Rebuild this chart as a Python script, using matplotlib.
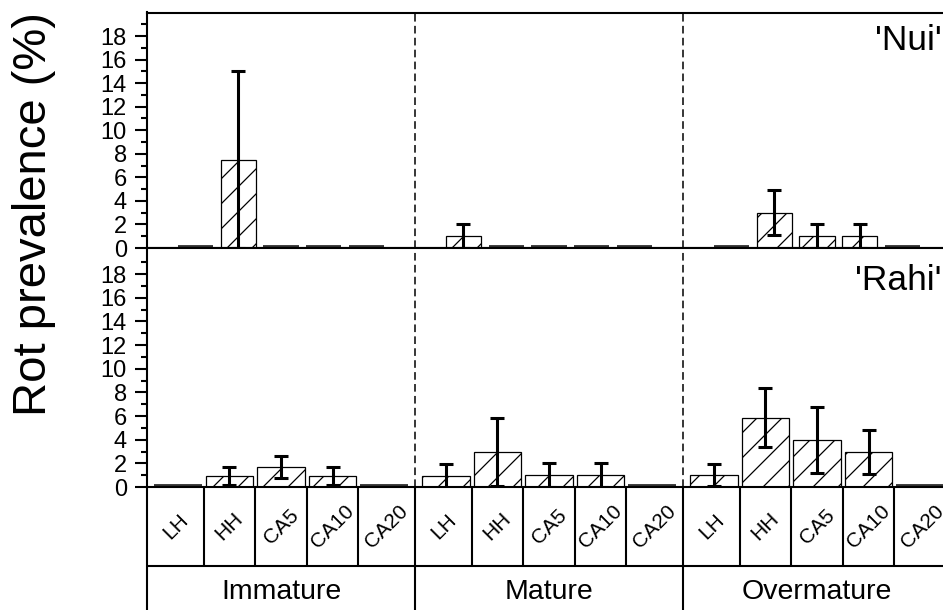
import matplotlib
matplotlib.use('Agg')
import matplotlib.pyplot as plt
from matplotlib import backend_bases
from matplotlib.path import Path

# hatch density closer to the reference
def _hatch_path(self, density=6.0):
    h = self.get_hatch()
    if h is None:
        return None
    return Path.hatch(h, 8)
backend_bases.GraphicsContextBase.get_hatch_path = _hatch_path

plt.rcParams['font.family'] = ['Liberation Sans', 'DejaVu Sans']
plt.rcParams['hatch.linewidth'] = 0.9

# ---------------- data ----------------
groups = ['Immature', 'Mature', 'Overmature']
treatments = ['LH', 'HH', 'CA5', 'CA10', 'CA20']
cultivars = ["'Nui'", "'Rahi'"]

nui_mean = [[0, 7.5, 0, 0, 0],
            [1.0, 0, 0, 0, 0],
            [0, 3.0, 1.0, 1.0, 0]]
nui_err = [[0, 7.5, 0, 0, 0],
           [1.0, 0, 0, 0, 0],
           [0, 1.9, 1.0, 1.0, 0]]

rahi_mean = [[0, 0.9, 1.7, 0.9, 0],
             [0.95, 2.95, 1.0, 1.0, 0],
             [1.0, 5.85, 3.95, 2.95, 0]]
rahi_err = [[0, 0.75, 0.95, 0.75, 0],
            [1.0, 2.85, 1.0, 1.0, 0],
            [0.95, 2.5, 2.8, 1.85, 0]]

yticks_major = list(range(0, 19, 2))
yticks_minor = list(range(1, 20, 2))

# ---------------- layout ----------------
W, H = 943, 610
fig = plt.figure(figsize=(W / 100, H / 100), dpi=100)

def fx(px):
    return px / W

def fy(py):
    return 1 - py / H

left_px, right_px = 147, 951
top_px, mid_px, bot_px = 12.5, 248, 487

ax_top = fig.add_axes([fx(left_px), fy(mid_px), (right_px - left_px) / W, (mid_px - top_px) / H])
ax_bot = fig.add_axes([fx(left_px), fy(bot_px), (right_px - left_px) / W, (bot_px - mid_px) / H])
ax_tab = fig.add_axes([fx(left_px), 0, (right_px - left_px) / W, (H - bot_px) / H])

spacing_top, width_top = 0.1604, 0.1306
spacing_bot, width_bot = 0.1922, 0.179
offsets = [-2, -1, 0, 1, 2]

def draw_panel(ax, means, errs, spacing, width, ymax, label, label_y):
    xs, ms, es = [], [], []
    for g in range(len(groups)):
        for k, off in enumerate(offsets):
            xs.append(g + 0.5 + off * spacing)
            ms.append(means[g][k])
            es.append(errs[g][k])
    nz = [i for i, m in enumerate(ms) if m > 0]
    z = [i for i, m in enumerate(ms) if m == 0]
    ax.bar([xs[i] for i in nz], [ms[i] for i in nz], width=width,
           facecolor='white', edgecolor='black', linewidth=0.9, hatch='/', zorder=2)
    # zero-valued bars show as a flat dark band on the baseline
    ax.bar([xs[i] for i in z], [ms[i] for i in z], width=width,
           facecolor='white', edgecolor='#333333', linewidth=4.2, zorder=2.5)
    ax.errorbar([xs[i] for i in nz], [ms[i] for i in nz], yerr=[es[i] for i in nz],
                fmt='none', ecolor='black', elinewidth=2.2,
                capsize=5, capthick=2.2, zorder=3)
    for xd in (1, 2):
        ax.axvline(xd, color='black', lw=1.1, ls=(0, (5, 2.8)), zorder=1)
    ax.set_xlim(0, 3)
    ax.set_ylim(0, ymax)
    ax.set_xticks([])
    ax.set_yticks(yticks_major)
    ax.set_yticklabels([str(t) for t in yticks_major])
    ax.set_yticks(yticks_minor, minor=True)
    ax.tick_params(axis='y', which='major', direction='out', length=8.5,
                   width=1.5, labelsize=17, pad=6)
    ax.tick_params(axis='y', which='minor', direction='out', length=4.5, width=1.5)
    for s in ('left', 'top', 'bottom'):
        ax.spines[s].set_linewidth(1.5)
        ax.spines[s].set_zorder(2.6)
    ax.spines['right'].set_visible(False)
    fig.text(0.9985, label_y, label, ha='right', va='baseline', fontsize=25.5)

draw_panel(ax_top, nui_mean, nui_err, spacing_top, width_top, 20, cultivars[0], fy(50))
draw_panel(ax_bot, rahi_mean, rahi_err, spacing_bot, width_bot, 20.2, cultivars[1], fy(290))

# ---------------- category table ----------------
ax_tab.set_xlim(0, 3)
ax_tab.set_ylim(0, 1)
ax_tab.axis('off')
row_y = (H - 566) / (H - bot_px)
cat_y = (H - 526.5) / (H - bot_px)
grp_y = (H - 599) / (H - bot_px)
lk = dict(color='black', lw=1.5, clip_on=False, solid_capstyle='butt')
ax_tab.plot([0, 0], [0, 1], **lk)
ax_tab.plot([0, 3], [row_y, row_y], **lk)
for xd in (1, 2):
    ax_tab.plot([xd, xd], [0, 1], **lk)
s = spacing_bot
for g in range(len(groups)):
    c = g + 0.5
    bounds = [g] + [c + (k + 0.5) * s for k in (-2, -1, 0, 1)] + [g + 1]
    for b in bounds[1:-1]:
        ax_tab.plot([b, b], [row_y, 1], **lk)
    for k, t in enumerate(treatments):
        xc = (bounds[k] + bounds[k + 1]) / 2
        ax_tab.text(xc, cat_y, t, rotation=45, rotation_mode='anchor',
                    ha='center', va='center', fontsize=15)
    ax_tab.text(c, grp_y, groups[g], ha='center', va='baseline', fontsize=20.5)

fig.text(fx(34), fy(214), 'Rot prevalence (%)', rotation=90, ha='center',
         va='center', fontsize=34)

fig.savefig('out.png', dpi=100)
